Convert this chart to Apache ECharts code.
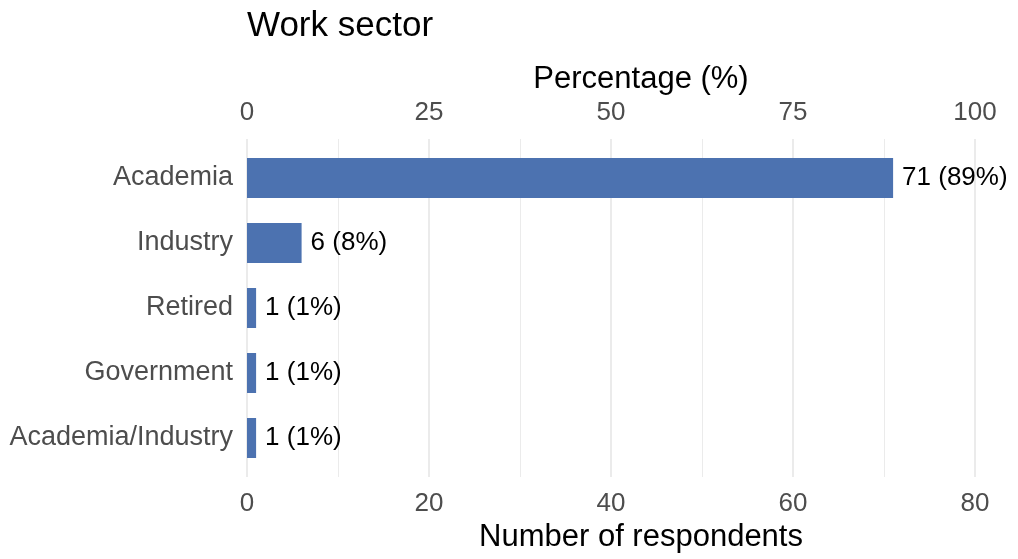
<!DOCTYPE html>
<html>
<head>
<meta charset="utf-8">
<script src="https://cdn.jsdelivr.net/npm/echarts@6/dist/echarts.min.js"></script>
<style>
  html, body { margin: 0; padding: 0; background: #fff; }
  #chart { width: 1018px; height: 559px; }
</style>
</head>
<body>
<div id="chart"></div>
<script>
// Work sector of survey respondents
const categories = ['Academia', 'Industry', 'Retired', 'Government', 'Academia/Industry'];
const respondents = [71, 6, 1, 1, 1];
const countTicks = [0, 20, 40, 60, 80];
const percentTicks = [0, 25, 50, 75, 100];

const total = respondents.reduce((a, b) => a + b, 0);
const FONT = '"Liberation Sans", Arial, Helvetica, sans-serif';
const tickText = { color: '#4d4d4d', fontSize: 26, fontFamily: FONT };
const titleText = { color: '#000', fontSize: 31, fontFamily: FONT };

const chart = echarts.init(document.getElementById('chart'), null, { renderer: 'canvas' });

chart.setOption({
  animation: false,
  backgroundColor: '#fff',
  title: {
    text: 'Work sector',
    left: 247,
    top: 9,
    padding: 0,
    textStyle: { color: '#000', fontSize: 35, fontWeight: 'normal', fontFamily: FONT }
  },
  grid: [
    // full panel: grid lines and both x scales
    { left: 247, right: 43, top: 139, bottom: 82 },
    // inner band area holding the bars (panel minus discrete padding)
    { left: 247, right: 43, top: 145.5, bottom: 88.5 }
  ],
  xAxis: [
    {
      gridIndex: 0,
      type: 'value',
      position: 'bottom',
      min: countTicks[0],
      max: countTicks[countTicks.length - 1],
      interval: countTicks[1] - countTicks[0],
      axisLine: { show: false },
      axisTick: { show: false },
      axisLabel: Object.assign({ margin: 14 }, tickText),
      splitLine: { show: true, lineStyle: { color: '#ebebeb', width: 2 } },
      minorTick: { show: false, splitNumber: 2 },
      minorSplitLine: { show: true, lineStyle: { color: '#ebebeb', width: 1 } },
      name: 'Number of respondents',
      nameLocation: 'middle',
      nameGap: 40,
      nameTextStyle: Object.assign({ padding: [0, 0, 0, 60] }, titleText)
    },
    {
      gridIndex: 0,
      type: 'value',
      position: 'top',
      min: percentTicks[0],
      max: percentTicks[percentTicks.length - 1],
      interval: percentTicks[1] - percentTicks[0],
      axisLine: { show: false },
      axisTick: { show: false },
      axisLabel: Object.assign({ margin: 13 }, tickText),
      splitLine: { show: false },
      name: 'Percentage (%)',
      nameLocation: 'middle',
      nameGap: 40,
      nameTextStyle: Object.assign({ padding: [0, 0, 0, 60] }, titleText)
    },
    {
      gridIndex: 1,
      type: 'value',
      min: countTicks[0],
      max: countTicks[countTicks.length - 1],
      show: false
    }
  ],
  yAxis: [
    { gridIndex: 0, type: 'value', min: 0, max: 1, show: false },
    {
      gridIndex: 1,
      type: 'category',
      data: categories,
      inverse: true,
      axisLine: { show: false },
      axisTick: { show: false },
      splitLine: { show: false },
      axisLabel: Object.assign({}, tickText, { margin: 14, fontSize: 27, padding: [4, 0, 0, 0] })
    }
  ],
  series: [
    {
      type: 'bar',
      xAxisIndex: 2,
      yAxisIndex: 1,
      data: respondents,
      barWidth: 40,
      itemStyle: { color: '#4C72B0' },
      label: {
        show: true,
        position: 'right',
        distance: 9,
        color: '#000',
        fontSize: 26,
        fontFamily: FONT,
        padding: [4, 0, 0, 0],
        formatter: p => p.value + ' (' + Math.round(p.value / total * 100) + '%)'
      }
    }
  ]
});
</script>
</body>
</html>
